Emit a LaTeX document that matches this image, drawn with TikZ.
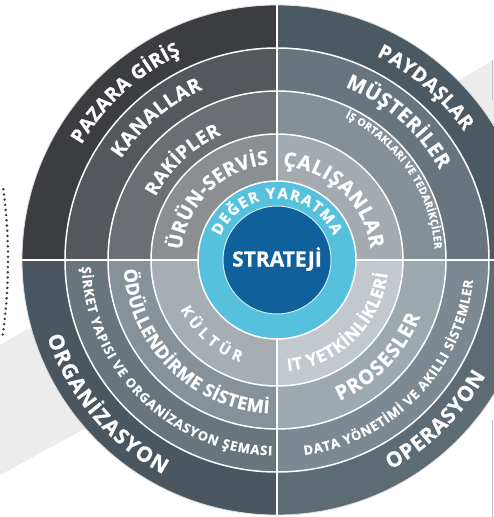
\documentclass[tikz,border=0pt]{standalone}
\usepackage{fontspec}
\setmainfont{Open Sans}[BoldFeatures={FakeBold=0.8}]
\usetikzlibrary{decorations.text}
\definecolor{qTLa}{HTML}{3B3D41}\definecolor{qTLb}{HTML}{54575C}\definecolor{qTLc}{HTML}{6B6E73}\definecolor{qTLd}{HTML}{8C8F92}
\definecolor{qTRa}{HTML}{4B5963}\definecolor{qTRb}{HTML}{68757E}\definecolor{qTRc}{HTML}{848F97}\definecolor{qTRd}{HTML}{A3ABB1}
\definecolor{qBLa}{HTML}{4A5760}\definecolor{qBLb}{HTML}{69757D}\definecolor{qBLc}{HTML}{87919A}\definecolor{qBLd}{HTML}{A6AEB4}
\definecolor{qBRa}{HTML}{5D6B75}\definecolor{qBRb}{HTML}{7D8992}\definecolor{qBRc}{HTML}{9EA8AF}\definecolor{qBRd}{HTML}{C2C8CD}
\definecolor{ringcyan}{HTML}{55C1DC}
\definecolor{coreblue}{HTML}{10609C}
\definecolor{bandgray}{HTML}{ECECEC}
\definecolor{dotgray}{HTML}{3F3F3F}
\newcommand\sector[4]{\fill[#4] (0pt,0pt) -- (#1:#3) arc[start angle=#1,end angle=#2,radius=#3] -- cycle;}
\newcommand\arctext[5]{\path[decorate,decoration={text along path,text color=white,text align={fit to path},text={|#4|#5}}] (#2:#1) arc[start angle=#2,end angle=#3,radius=#1];}
\newcommand\fsz[1]{\fontsize{#1}{#1}\selectfont\bfseries}
\tikzset{ringline/.style={white,line width=1.5pt}}
\begin{document}
\begin{tikzpicture}
\useasboundingbox (-277pt,-257pt) rectangle (217pt,260pt);
\fill[white] (-277pt,-257pt) rectangle (217pt,260pt);
% background band
\fill[bandgray] (-277pt,-85pt) -- (217pt,200pt) -- (217pt,55pt) -- (-277pt,-215pt) -- cycle;
\draw[gray!50,line width=0.8pt] (215.5pt,200pt) -- (215.5pt,160pt);
\draw[gray!50,line width=0.8pt] (215.5pt,-160pt) -- (215.5pt,-257pt);
% dotted arc
\draw[dotgray,line width=2.8pt,line cap=round,dash pattern=on 0pt off 5.2pt] ([shift={(-804pt,0pt)}]-8:535pt) arc[start angle=-8,end angle=8,radius=535pt];
% sectors
\sector{90}{180}{255pt}{qTLa}\sector{0}{90}{255pt}{qTRa}\sector{180}{270}{255pt}{qBLa}\sector{270}{360}{255pt}{qBRa}
\sector{90}{180}{212pt}{qTLb}\sector{0}{90}{212pt}{qTRb}\sector{180}{270}{212pt}{qBLb}\sector{270}{360}{212pt}{qBRb}
\sector{90}{180}{169pt}{qTLc}\sector{0}{90}{169pt}{qTRc}\sector{180}{270}{169pt}{qBLc}\sector{270}{360}{169pt}{qBRc}
\sector{90}{180}{126pt}{qTLd}\sector{0}{90}{126pt}{qTRd}\sector{180}{270}{126pt}{qBLd}\sector{270}{360}{126pt}{qBRd}
\draw[gray!25,line width=0.8pt] (0pt,0pt) circle[radius=255pt];
\draw[ringline] (0pt,0pt) circle[radius=212pt];
\draw[ringline] (0pt,0pt) circle[radius=169pt];
\draw[ringline] (0pt,0pt) circle[radius=126pt];
\draw[ringline,line width=1.8pt] (-255pt,0pt) -- (255pt,0pt);
\draw[ringline,line width=1.8pt] (0pt,-255pt) -- (0pt,255pt);
% centre
\fill[ringcyan,draw=white,line width=1.5pt] (0pt,0pt) circle[radius=79pt];
\fill[coreblue,draw=white!70!ringcyan,line width=1pt] (0pt,0pt) circle[radius=54pt];
\node[text=white,font=\fontsize{21}{21}\selectfont\bfseries] (core) at (0pt,1pt) {STRATEJİ};
% ring texts, top half
\arctext{227pt}{149.5}{115}{\fsz{19.5}}{PAZARA GİRİŞ}
\arctext{227pt}{64}{34.5}{\fsz{19.5}}{PAYDAŞLAR}
\arctext{186pt}{147}{113.5}{\fsz{19.5}}{KANALLAR}
\arctext{186pt}{68.5}{29}{\fsz{20}}{MÜŞTERİLER}
\arctext{137pt}{152.5}{114}{\fsz{18.5}}{RAKİPLER}
\arctext{158pt}{64.5}{4}{\fsz{10.5}}{İŞ ORTAKLARI VE TEDARİKÇİLER}
\arctext{96pt}{174}{95}{\fsz{19.5}}{ÜRÜN-SERVİS}
\arctext{94pt}{86.5}{7}{\fsz{20}}{ÇALIŞANLAR}
\arctext{61.5pt}{157}{23.5}{\fsz{15}}{DEĞER YARATMA}
% ring texts, bottom half
\arctext{242.5pt}{198.5}{242}{\fsz{21}}{ORGANİZASYON}
\arctext{238.5pt}{298.5}{331}{\fsz{21}}{OPERASYON}
\arctext{195.5pt}{182}{268.5}{\fsz{13}}{ŞİRKET YAPISI VE ORGANİZASYON ŞEMASI}
\arctext{197pt}{278}{354}{\fsz{13}}{DATA YÖNETİMİ VE AKILLI SİSTEMLER}
\arctext{153.5pt}{183.5}{267}{\fsz{18}}{ÖDÜLLENDİRME SİSTEMİ}
\arctext{154pt}{294}{338.5}{\fsz{20}}{PROSESLER}
\arctext{108.5pt}{207}{250}{\fsz{15}}{KÜLTÜR}
\arctext{111.5pt}{275.5}{353}{\fsz{17}}{IT YETKİNLİKLERİ}
\end{tikzpicture}
\end{document}
